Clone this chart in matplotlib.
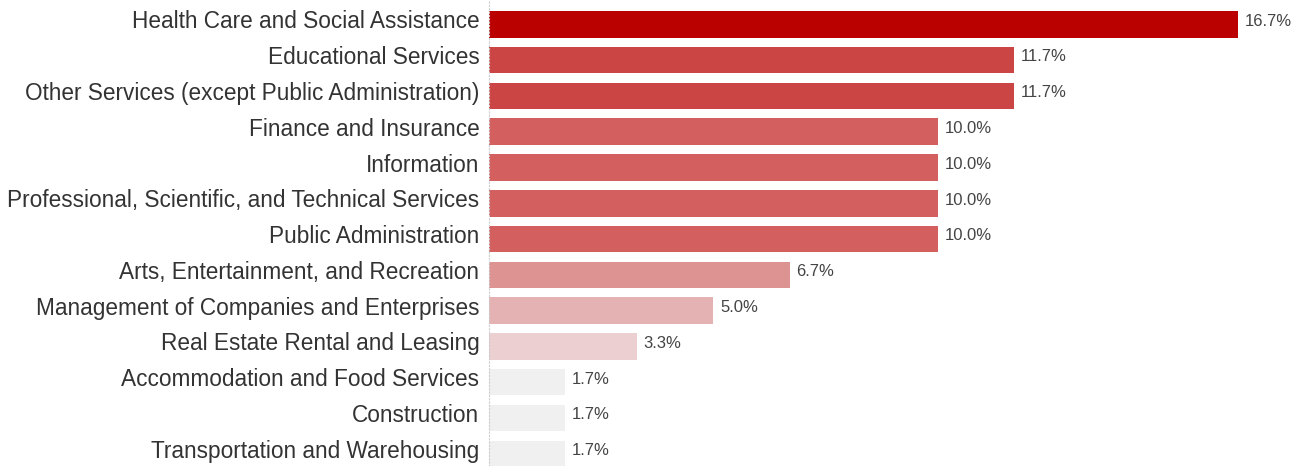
import matplotlib
matplotlib.use('Agg')
import matplotlib.pyplot as plt
import matplotlib.transforms as mtransforms

industries = [
    'Health Care and Social Assistance',
    'Educational Services',
    'Other Services (except Public Administration)',
    'Finance and Insurance',
    'Information',
    'Professional, Scientific, and Technical Services',
    'Public Administration',
    'Arts, Entertainment, and Recreation',
    'Management of Companies and Enterprises',
    'Real Estate Rental and Leasing',
    'Accommodation and Food Services',
    'Construction',
    'Transportation and Warehousing',
]
shares = [16.7, 11.7, 11.7, 10.0, 10.0, 10.0, 10.0, 6.7, 5.0, 3.3, 1.7, 1.7, 1.7]

# shade by share value
shade = {16.7: '#bb0000', 11.7: '#cc4545', 10.0: '#d45f5f', 6.7: '#de9393',
         5.0: '#e4b2b2', 3.3: '#ecd0d1', 1.7: '#f0f0f0'}
colors = [shade[v] for v in shares]

plt.rcParams['font.family'] = ['Liberation Sans', 'DejaVu Sans']

fig = plt.figure(figsize=(13, 4.66), dpi=100)
ax = fig.add_axes([489 / 1300, 0, 811 / 1300, 1])

y = list(range(len(industries)))
ax.barh(y, shares, height=0.74, color=colors)
for yi, v in zip(y, shares):
    ax.text(v + 0.15, yi - 0.09, f'{v:.1f}%', va='center', ha='left',
            fontsize=12, color='#444444')

ax.set_yticks(y)
ax.set_yticklabels(industries, fontsize=16.3, color='#333333')
ax.tick_params(axis='y', length=0, pad=7)
# labels sit slightly above bar centres
lift = mtransforms.ScaledTranslation(0, 5 / 100, fig.dpi_scale_trans)
for lab in ax.get_yticklabels():
    lab.set_transform(lab.get_transform() + lift)
ax.set_xticks([])
ax.set_xlim(0, 18.08)
ax.set_ylim(12.34, -0.68)
for s in ['top', 'right', 'bottom']:
    ax.spines[s].set_visible(False)
ax.spines['left'].set_color('#cccccc')
ax.spines['left'].set_linestyle((0, (1, 2)))
ax.spines['left'].set_linewidth(0.8)

fig.savefig('out.png', dpi=100)
